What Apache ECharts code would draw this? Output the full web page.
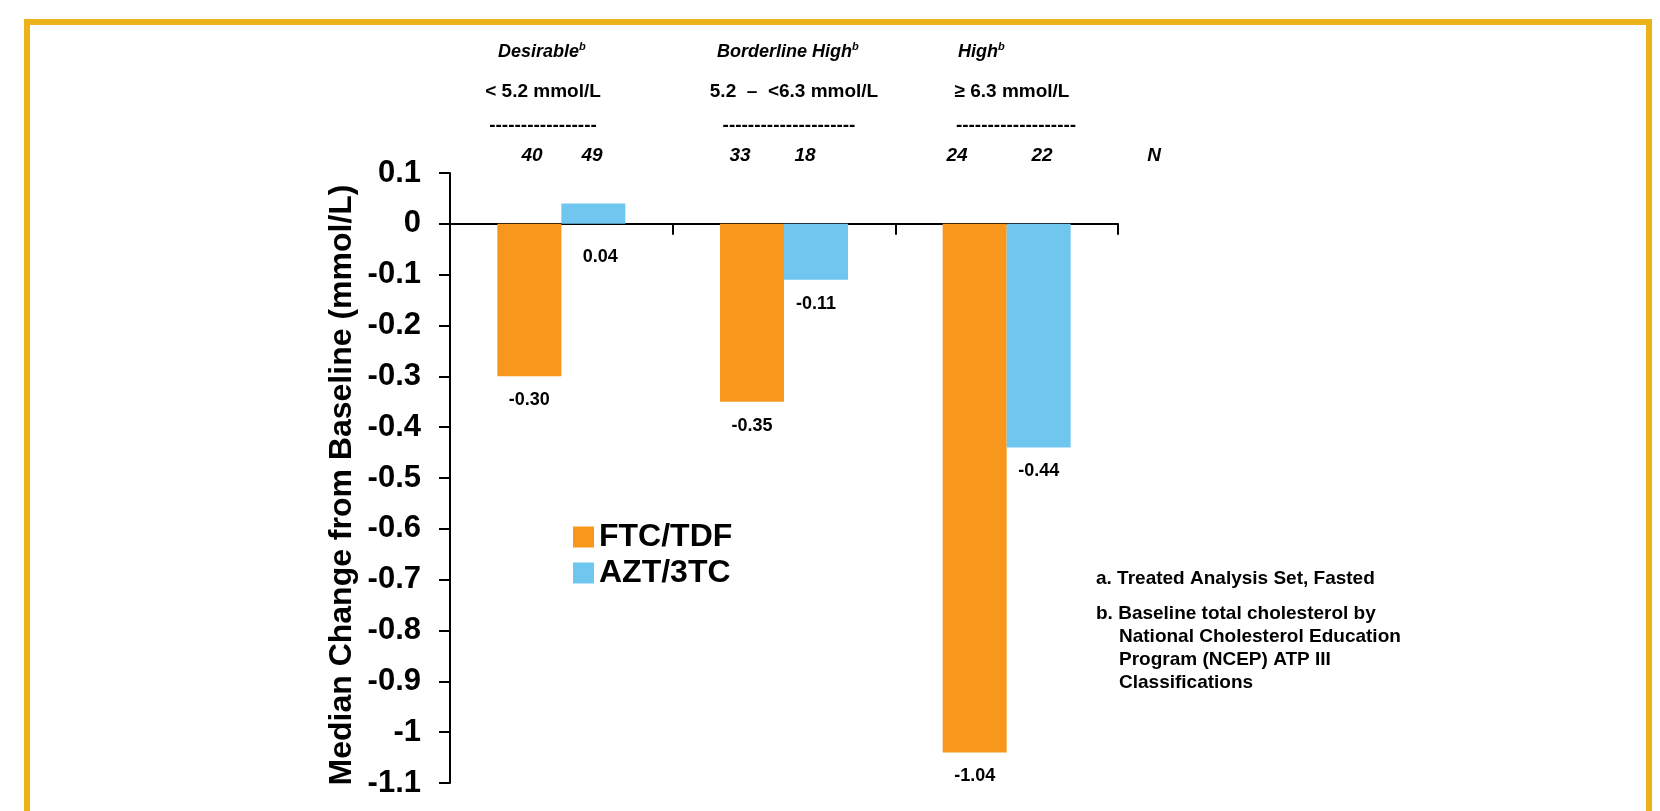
<!DOCTYPE html>
<html>
<head>
<meta charset="utf-8">
<style>
  html, body { margin: 0; padding: 0; background: #ffffff; }
  #chart { width: 1660px; height: 811px; }
</style>
<script src="https://cdn.jsdelivr.net/npm/echarts@6/dist/echarts.min.js"></script>
</head>
<body>
<div id="chart"></div>
<script>
// Baseline total cholesterol strata
const categories = ['Desirable', 'Borderline High', 'High'];
const ranges = ['< 5.2 mmol/L', '5.2  \u2013  <6.3 mmol/L', '\u2265 6.3 mmol/L'];
const seriesNames = ['FTC/TDF', 'AZT/3TC'];
// Median change from baseline (mmol/L)
const ftcTdf = [-0.30, -0.35, -1.04];
const azt3tc = [0.04, -0.11, -0.44];
// Patients per group
const nFtcTdf = [40, 33, 24];
const nAzt3tc = [49, 18, 22];
const yTickLabels = ['0.1', '0', '-0.1', '-0.2', '-0.3', '-0.4', '-0.5', '-0.6', '-0.7', '-0.8', '-0.9', '-1', '-1.1'];
const yAxisTitle = 'Median Change from Baseline (mmol/L)';
const footnotes = [
  ['a. ', 'Treated Analysis Set, Fasted'],
  ['b. ', 'Baseline total cholesterol by', 'National Cholesterol Education', 'Program (NCEP) ATP III', 'Classifications']
];

const FONT = '"Liberation Sans", Arial, Helvetica, sans-serif';
const ORANGE = '#F7981D';
const BLUE = '#6FC7EF';
const GOLD = '#EBB317';

const chart = echarts.init(document.getElementById('chart'), null, { renderer: 'canvas' });

function barData(values) {
  return values.map(v => v >= 0
    ? { value: v, label: { distance: 24, offset: [7, 0] } }
    : v);
}

const labelStyle = {
  show: true,
  position: 'bottom',
  distance: 15,
  fontFamily: FONT,
  fontWeight: 'bold',
  fontSize: 18,
  color: '#000',
  formatter: p => p.value.toFixed(2)
};

// Header text blocks above each stratum
const textEls = [];
const headerRow = { y1: 52, y2: 92, y3: 126, y4: 156 };
const headerLeft = [498, 717, 958];
const rangeCenter = [543, 794, 1012];
const dashCenter = [543, 789, 1016];
const dashCount = [17, 21, 19];
const nCenterFtc = [532, 740, 957];
const nCenterAzt = [592, 805, 1042];

categories.forEach((c, i) => {
  textEls.push({
    type: 'text', left: headerLeft[i], top: headerRow.y1 - 11,
    style: {
      text: '{t|' + c + '}{s|b}',
      rich: {
        t: { fontFamily: FONT, fontSize: 18, fontWeight: 'bold', fontStyle: 'italic', fill: '#000', lineHeight: 22 },
        s: { fontFamily: FONT, fontSize: 11, fontWeight: 'bold', fontStyle: 'italic', fill: '#000', lineHeight: 12, verticalAlign: 'top' }
      }
    }
  });
  textEls.push({
    type: 'text', x: rangeCenter[i], y: headerRow.y2,
    style: { text: ranges[i], fontFamily: FONT, fontSize: 19, fontWeight: 'bold', fill: '#000', align: 'center', verticalAlign: 'middle' }
  });
  textEls.push({
    type: 'text', x: dashCenter[i], y: headerRow.y3,
    style: { text: '-'.repeat(dashCount[i]), fontFamily: FONT, fontSize: 19, fontWeight: 'bold', fill: '#000', align: 'center', verticalAlign: 'middle' }
  });
  [[nFtcTdf, nCenterFtc], [nAzt3tc, nCenterAzt]].forEach(([arr, xs]) => {
    textEls.push({
      type: 'text', x: xs[i], y: headerRow.y4,
      style: { text: String(arr[i]), fontFamily: FONT, fontSize: 19, fontWeight: 'bold', fontStyle: 'italic', fill: '#000', align: 'center', verticalAlign: 'middle' }
    });
  });
});
textEls.push({
  type: 'text', x: 1154, y: headerRow.y4,
  style: { text: 'N', fontFamily: FONT, fontSize: 19, fontWeight: 'bold', fontStyle: 'italic', fill: '#000', align: 'center', verticalAlign: 'middle' }
});

// Vertical axis title
textEls.push({
  type: 'text', x: 342, y: 485, rotation: Math.PI / 2,
  style: { text: yAxisTitle, fontFamily: FONT, fontSize: 32, fontWeight: 'bold', fill: '#000', align: 'center', verticalAlign: 'middle' }
});

// Footnotes
const noteX = 1096, noteIndent = 23, noteLine = 23;
let noteY = 579;
footnotes.forEach((note, k) => {
  if (k > 0) noteY += 12;
  note.slice(1).forEach((line, j) => {
    textEls.push({
      type: 'text', x: j === 0 ? noteX : noteX + noteIndent, y: noteY,
      style: { text: (j === 0 ? note[0] : '') + line, fontFamily: FONT, fontSize: 19, fontWeight: 'bold', fill: '#000', verticalAlign: 'middle' }
    });
    noteY += noteLine;
  });
});

// Gold frame
textEls.push({
  type: 'rect', shape: { x: 27, y: 22, width: 1622, height: 900 },
  style: { fill: 'none', stroke: GOLD, lineWidth: 6 }, z: 100
});

const option = {
  backgroundColor: '#ffffff',
  animation: false,
  grid: { left: 450, right: 542, top: 173, bottom: 28, containLabel: false },
  legend: {
    orient: 'vertical',
    left: 573, top: 521, padding: 0,
    itemWidth: 21, itemHeight: 21, itemGap: 4,
    icon: 'rect',
    data: seriesNames,
    textStyle: { fontFamily: FONT, fontSize: 32, fontWeight: 'bold', color: '#000' },
    itemStyle: { borderWidth: 0 }
  },
  xAxis: {
    type: 'category',
    data: categories,
    axisLine: { onZero: true, lineStyle: { color: '#000', width: 2 } },
    axisTick: { show: true, length: 11, alignWithLabel: false, lineStyle: { color: '#000', width: 2 } },
    axisLabel: { show: false },
    splitLine: { show: false }
  },
  yAxis: {
    type: 'value',
    min: -1.1, max: 0.1, interval: 0.1,
    axisLine: { show: true, lineStyle: { color: '#000', width: 2 } },
    axisTick: { show: true, length: 11, lineStyle: { color: '#000', width: 2 } },
    axisLabel: {
      margin: 29,
      fontFamily: FONT, fontSize: 31, fontWeight: 'bold', color: '#000',
      formatter: v => {
        const idx = Math.round((0.1 - v) / 0.1);
        return yTickLabels[idx] !== undefined ? yTickLabels[idx] : String(v);
      }
    },
    splitLine: { show: false }
  },
  series: [
    {
      name: seriesNames[0], type: 'bar', data: barData(ftcTdf),
      barWidth: 64, barGap: '0%',
      itemStyle: { color: ORANGE },
      label: labelStyle
    },
    {
      name: seriesNames[1], type: 'bar', data: barData(azt3tc),
      barWidth: 64, barGap: '0%',
      itemStyle: { color: BLUE },
      label: labelStyle
    }
  ],
  graphic: { elements: textEls }
};

chart.setOption(option);
</script>
</body>
</html>
